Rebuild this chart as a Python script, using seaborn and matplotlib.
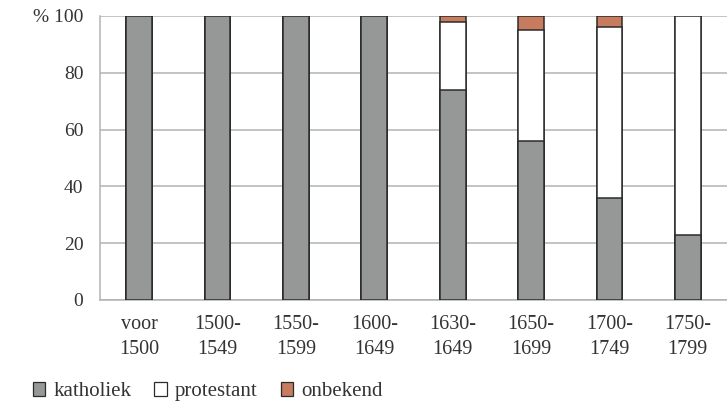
import numpy as np
import pandas as pd
import seaborn as sns
import matplotlib.pyplot as plt
from matplotlib.patches import Patch

# Share of each group per period (%)
periods = ['voor\n1500', '1500-\n1549', '1550-\n1599', '1600-\n1649',
           '1630-\n1649', '1650-\n1699', '1700-\n1749', '1750-\n1799']
katholiek = [100, 100, 100, 100, 74, 56, 36, 23]
protestant = [0, 0, 0, 0, 24, 39, 60, 77]
onbekend = [0, 0, 0, 0, 2, 5, 4, 0]

colors = {'katholiek': '#959896', 'protestant': '#ffffff', 'onbekend': '#c77b5f'}

sns.set_style('white')
plt.rcParams['font.family'] = ['Liberation Serif', 'DejaVu Serif']

df = pd.DataFrame({'period': periods,
                   'katholiek': katholiek,
                   'protestant': protestant,
                   'onbekend': onbekend})
# cumulative tops, drawn from the top layer down
df['top_onbekend'] = df['katholiek'] + df['protestant'] + df['onbekend']
df['top_protestant'] = df['katholiek'] + df['protestant']
df['top_katholiek'] = df['katholiek']

fig = plt.figure(figsize=(7.27, 4.04), dpi=100)
ax = fig.add_axes([100 / 727, 1 - 300 / 404, 627 / 727, 284 / 404])

for name in ['onbekend', 'protestant', 'katholiek']:
    sns.barplot(data=df, x='period', y='top_' + name, color=colors[name],
                saturation=1, width=0.33, edgecolor='#2b2b2b', linewidth=1.1,
                ax=ax, zorder=3)

ax.set_ylim(0, 100)
ax.set_xlim(-0.5, 7.5)
ax.set_yticks([0, 20, 40, 60, 80, 100])
ax.set_yticklabels(['0', '20', '40', '60', '80', '% 100'])
ax.yaxis.grid(True, color='#b3b3b3', linewidth=1.1, zorder=0)
ax.set_xlabel('')
ax.set_ylabel('')

for s in ['top', 'right']:
    ax.spines[s].set_visible(False)
ax.spines['left'].set_color('#b3b3b3')
ax.spines['bottom'].set_color('#b3b3b3')
ax.spines['left'].set_linewidth(1.1)
ax.spines['bottom'].set_linewidth(1.1)

# x ticks sit between the categories, labels at the centres
ax.set_xticks(np.arange(8))
ax.set_xticklabels(periods, fontsize=14.5, color='#333333', linespacing=1.38)
ax.set_xticks(np.arange(-0.5, 8, 1), minor=True)
ax.tick_params(axis='x', which='major', length=0, pad=11)
ax.tick_params(axis='x', which='minor', length=5, color='#b3b3b3', width=1.1)
ax.tick_params(axis='y', length=2, color='#b3b3b3', width=1.1, pad=10,
               labelsize=14, labelcolor='#333333')

handles = [Patch(facecolor=colors[n], edgecolor='#2b2b2b', linewidth=0.9, label=n)
           for n in ['katholiek', 'protestant', 'onbekend']]
fig.legend(handles=handles, loc='lower left', bbox_to_anchor=(0.019, -0.04),
           ncol=3, frameon=False, handlelength=0.6,
           handleheight=0.6, handletextpad=0.4, columnspacing=1.1,
           labelcolor='#333333', prop={'family': 'Liberation Serif', 'size': 15})

fig.savefig('out.png', dpi=100)
